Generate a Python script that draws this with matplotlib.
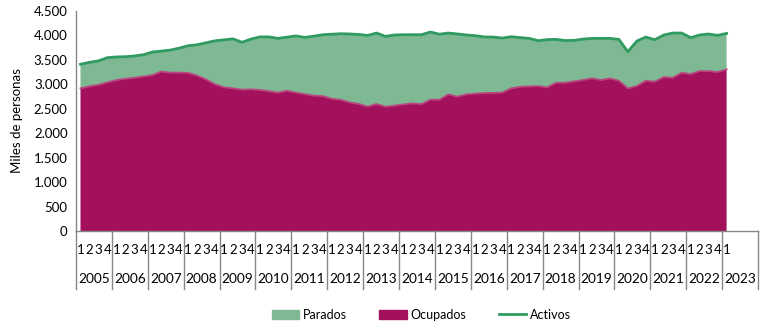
import matplotlib
matplotlib.use("Agg")
import matplotlib.pyplot as plt
import matplotlib.transforms as mtransforms
from matplotlib.patches import Patch
from matplotlib.lines import Line2D
import numpy as np

plt.rcParams['font.family'] = ['Lato', 'DejaVu Sans']

years = [str(y) for y in range(2005, 2024)]
quarters = ['1', '2', '3', '4']

# miles de personas, trimestral 2005T1 - 2023T1
activos = [3410, 3450, 3480, 3545, 3560, 3565, 3580, 3605,
           3660, 3680, 3700, 3740, 3790, 3810, 3850, 3890,
           3910, 3930, 3860, 3926, 3970, 3970, 3940, 3965,
           3990, 3960, 3985, 4015, 4025, 4035, 4030, 4020,
           4000, 4049, 3981, 4010, 4015, 4015, 4015, 4070,
           4025, 4049, 4030, 4010, 3995, 3970, 3967, 3947,
           3974, 3955, 3940, 3892, 3915, 3919, 3895, 3899,
           3925, 3940, 3940, 3940, 3919, 3666, 3885, 3967,
           3913, 4008, 4049, 4049, 3954, 4010, 4029, 4001,
           4042]
ocupados = [2918, 2960, 2990, 3040, 3088, 3115, 3135, 3160,
            3190, 3260, 3240, 3240, 3235, 3180, 3100, 3000,
            2940, 2918, 2890, 2898, 2885, 2860, 2830, 2870,
            2830, 2800, 2768, 2761, 2705, 2685, 2630, 2600,
            2545, 2597, 2543, 2565, 2590, 2611, 2597, 2686,
            2686, 2795, 2747, 2795, 2810, 2822, 2825, 2830,
            2918, 2951, 2958, 2965, 2938, 3033, 3033, 3060,
            3090, 3122, 3088, 3122, 3074, 2918, 2965, 3074,
            3054, 3149, 3135, 3237, 3210, 3271, 3271, 3251,
            3306]
parados = [a - o for a, o in zip(activos, ocupados)]

c_ocup = '#A3115C'
c_ocup_edge = '#B8487F'
c_par = '#7FB994'
c_act = '#2F9B60'
c_axis = '#878787'

fig = plt.figure(figsize=(7.62, 3.29), dpi=100)
ax = fig.add_axes([76/762, 1 - 231/329, 682/762, 220/329])

x = np.arange(len(activos))
ax.stackplot(x, ocupados, parados, colors=[c_ocup, c_par], lw=0)
ax.plot(x, ocupados, color=c_ocup_edge, lw=1.3)
ax.plot(x, activos, color=c_act, lw=2)

ax.set_xlim(-0.5, 4 * len(years) - 0.5)
ax.set_ylim(0, 4500)
ax.set_yticks(range(0, 4501, 500))
ax.set_yticklabels([f'{v:,}'.replace(',', '.') for v in range(0, 4501, 500)],
                   fontsize=9.5)
ax.tick_params(axis='y', length=0, pad=6)
ax.set_xticks([])
ax.set_ylabel('Miles de personas', fontsize=9.5, labelpad=8)

for s in ['top', 'right']:
    ax.spines[s].set_visible(False)
for s in ['left', 'bottom']:
    ax.spines[s].set_color(c_axis)
    ax.spines[s].set_linewidth(1)

# two-level category axis
trans = mtransforms.blended_transform_factory(ax.transData, ax.transAxes)
n = len(activos)
for i in range(n):
    ax.text(i, -0.086, quarters[i % 4], transform=trans, ha='center',
            va='center', fontsize=9.5)
for k, yr in enumerate(years):
    ax.text(4 * k + 1.5, -0.218, yr, transform=trans, ha='center',
            va='center', fontsize=9.8)
for k in range(len(years) + 1):
    ax.add_line(Line2D([4 * k - 0.5, 4 * k - 0.5], [0, -0.264],
                       transform=trans, color=c_axis, lw=1, clip_on=False))

handles = [Patch(color=c_par, label='Parados'),
           Patch(color=c_ocup, label='Ocupados'),
           Line2D([], [], color=c_act, lw=2, label='Activos')]
fig.legend(handles=handles, loc='center', bbox_to_anchor=(0.553, 0.043),
           ncol=3, frameon=False, fontsize=9, handlelength=2.2,
           handleheight=0.7, handletextpad=0.3, columnspacing=2.6)

fig.savefig('out.png', dpi=100)
